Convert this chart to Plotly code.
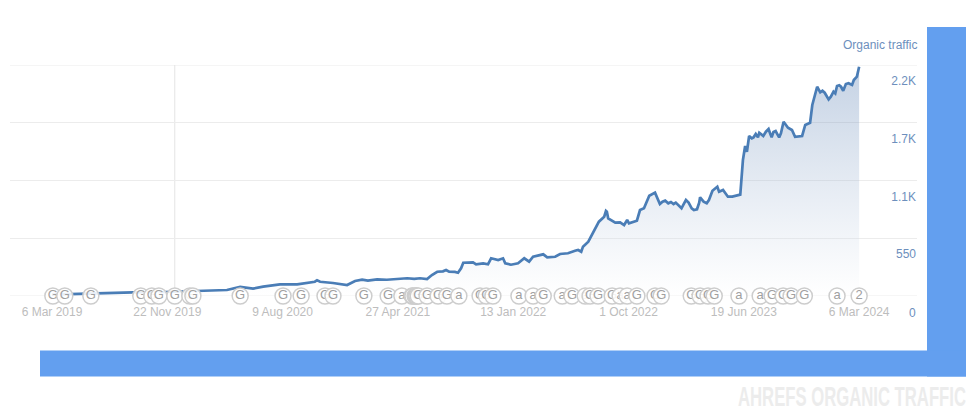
import pandas as pd
import plotly.graph_objects as go

START_DATE = "2019-03-06"
traffic_days = [0,41,88,115,183,256,335,396,426,455,478,516,555,595,600,607,636,668,686,702,715,736,758,780,804,820,833,849,860,872,885,892,899,912,919,926,931,953,960,976,987,994,1003,1010,1021,1026,1039,1055,1069,1080,1089,1112,1121,1139,1150,1168,1184,1191,1198,1202,1214,1229,1238,1250,1254,1256,1259,1275,1286,1295,1302,1306,1324,1331,1340,1352,1365,1376,1382,1388,1395,1401,1407,1412,1418,1425,1429,1435,1441,1448,1453,1460,1465,1467,1475,1482,1487,1495,1506,1510,1519,1530,1540,1546,1553,1558,1564,1569,1573,1578,1584,1588,1593,1598,1601,1605,1610,1616,1622,1626,1629,1633,1638,1643,1646,1650,1656,1666,1675,1682,1698,1705,1716,1721,1727,1732,1739,1744,1749,1754,1758,1763,1769,1773,1777,1782,1786,1791,1797,1803,1811,1815,1818,1822,1827]
traffic_values = [14,19,22,31,35,38,48,57,86,70,89,111,111,136,150,136,124,105,143,155,146,158,155,163,169,164,169,162,200,231,235,248,231,229,222,264,317,321,302,311,302,359,350,343,359,311,298,311,359,327,374,397,369,374,400,407,431,438,422,470,517,645,708,755,810,803,740,698,702,676,724,692,717,819,835,955,984,876,898,908,883,895,876,889,867,835,867,914,889,835,819,826,889,940,898,883,914,1003,1041,993,1010,946,946,952,955,965,1295,1429,1374,1524,1502,1511,1543,1511,1555,1543,1524,1565,1590,1543,1511,1562,1571,1533,1511,1549,1660,1603,1581,1517,1524,1629,1650,1819,1930,1993,1940,1955,1936,1905,1873,1898,1946,1930,2000,2007,1993,1955,2019,2026,2010,2057,2073,2089,2184]

event_days = [2,29,88,201,226,242,278,312,319,426,523,564,618,636,706,761,792,815,817,822,824,826,829,849,874,894,921,969,983,998,1057,1089,1112,1155,1177,1207,1218,1236,1268,1286,1302,1324,1365,1379,1447,1467,1485,1499,1555,1603,1630,1655,1673,1703,1777,1827]
event_labels = ["G","G","G","G","G","G","G","G","G","G","G","G","G","G","G","G","a","G","G","G","G","G","G","G","G","G","a","G","G","G","a","a","G","a","G","a","G","G","G","a","a","G","G","G","G","G","G","G","a","a","G","G","G","G","a","2"]

x_tick_dates = ["2019-03-06","2019-11-22","2020-08-09","2021-04-27","2022-01-13","2022-10-01","2023-06-19","2024-03-06"]
x_tick_labels = ["6 Mar 2019","22 Nov 2019","9 Aug 2020","27 Apr 2021","13 Jan 2022","1 Oct 2022","19 Jun 2023","6 Mar 2024"]
y_tick_values = [550,1100,1650,2200]
y_tick_labels = ["550","1.1K","1.7K","2.2K"]
y_zero_label = "0"

base = pd.Timestamp(START_DATE)
to_dates = lambda days: [base + pd.Timedelta(days=d) for d in days]

W, H = 966, 408
L, R, T, B = 10, 917, 65, 296
px = lambda v: (v - L) / (R - L)
py = lambda v: (B - v) / (B - T)

FONT = "Liberation Sans, Arial, sans-serif"
BLUE_TXT = "#6d8fbd"
FRAME = "#639FEF"
GRID = "#ececec"

fig = go.Figure()
fig.add_trace(go.Scatter(
    x=to_dates(traffic_days), y=traffic_values, mode="lines",
    line=dict(color="#4a7db6", width=2.7),
    fill="tozeroy",
    fillgradient=dict(type="vertical", colorscale=[[0, "rgba(255,255,255,0.25)"], [1, "rgba(60,105,165,0.3)"]]),
    hoverinfo="skip", showlegend=False,
))
for day, label in zip(event_days, event_labels):
    fig.add_trace(go.Scatter(
        x=to_dates([day]), y=[0], mode="markers+text",
        text=[label], textposition="middle center",
        textfont=dict(family=FONT, size=13, color="#a0a0a0"),
        marker=dict(size=16, color="rgba(255,255,255,0.88)", line=dict(color="#cdcdcd", width=1.5)),
        cliponaxis=False, hoverinfo="skip", showlegend=False,
    ))

fig.update_layout(
    width=W, height=H, autosize=False,
    margin=dict(l=L, r=W - R, t=T, b=H - B, pad=0),
    paper_bgcolor="white", plot_bgcolor="white",
    font=dict(family=FONT, size=12),
    xaxis=dict(
        type="date", range=["2018-12-01", "2024-07-15"],
        tickmode="array", tickvals=x_tick_dates, ticktext=x_tick_labels,
        tickfont=dict(color="#bdbdbd", size=12), ticks="", ticklabelstandoff=7,
        showgrid=False, zeroline=False, showline=False,
    ),
    yaxis=dict(
        side="right", range=[0, 2200],
        tickmode="array", tickvals=y_tick_values, ticktext=y_tick_labels,
        tickfont=dict(color=BLUE_TXT, size=12), ticks="",
        ticklabelposition="inside", ticklabelshift=16, ticklabelstandoff=-2,
        showgrid=True, gridcolor=GRID, gridwidth=1, zeroline=False, showline=False,
    ),
    shapes=[
        dict(type="line", xref="paper", yref="y", x0=0, x1=1, y0=0, y1=0, line=dict(color=GRID, width=1), layer="below"),
        dict(type="line", xref="paper", yref="y", x0=0, x1=1, y0=2200, y1=2200, line=dict(color=GRID, width=1), layer="below"),
        dict(type="line", xref="x", yref="y", x0=to_dates([278])[0], x1=to_dates([278])[0], y0=0, y1=2200,
             line=dict(color="#e4e4e4", width=1), layer="below"),
        dict(type="rect", xref="paper", yref="paper", x0=px(927), x1=px(966), y0=py(27), y1=py(376.5),
             fillcolor=FRAME, line_width=0),
        dict(type="rect", xref="paper", yref="paper", x0=px(40), x1=px(966), y0=py(350.5), y1=py(376.5),
             fillcolor=FRAME, line_width=0),
    ],
    annotations=[
        dict(text="Organic traffic", xref="paper", yref="paper", x=1, y=py(45), xanchor="right", yanchor="middle",
             xshift=2, showarrow=False, font=dict(color=BLUE_TXT, size=12, family=FONT)),
        dict(text=y_zero_label, xref="paper", yref="y", x=1, y=0, xanchor="right", yanchor="middle",
             yshift=-17, xshift=1, showarrow=False, font=dict(color=BLUE_TXT, size=12, family=FONT)),
        dict(text="<b>AHREFS ORGANIC TRAFFIC</b>", xref="paper", yref="paper", x=px(968), y=py(397),
             xanchor="right", yanchor="middle", showarrow=False,
             font=dict(color="#ececec", size=27, family=FONT)),
    ],
)

squeeze = """
document.body.style.margin='0';document.body.style.overflow='hidden';
document.querySelectorAll('text.annotation-text').forEach(function(t){
  if(t.textContent.indexOf('AHREFS')<0) return;
  var b=t.getBBox(), r=b.x+b.width, s=228/b.width;
  t.setAttribute('transform','translate('+r+',0) scale('+s+',1) translate('+(-r)+',0)');
});
"""
fig.write_html("out.html", config=dict(displayModeBar=False, responsive=False), post_script=squeeze)
